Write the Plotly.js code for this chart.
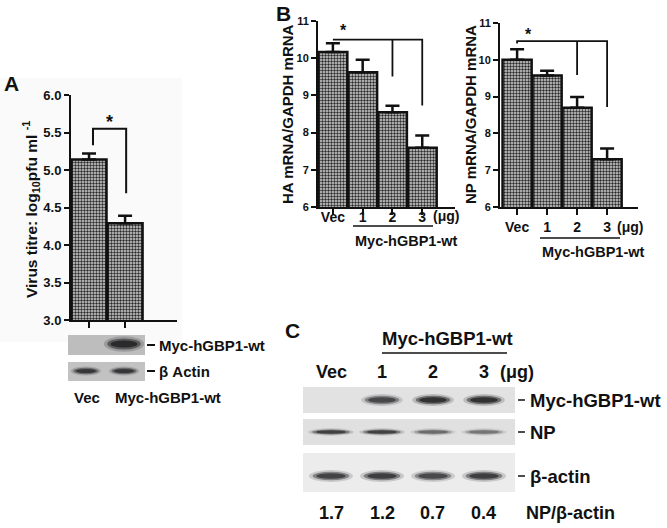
<!DOCTYPE html>
<html><head><meta charset="utf-8">
<script src="https://cdn.plot.ly/plotly-3.0.1.min.js"></script>
<style>html,body{margin:0;padding:0;background:#fff}#chart{width:667px;height:528px}</style>
</head><body><div id="chart"></div>
<script>
// ---- data ----
const aGroups = ['Vec', 'Myc-hGBP1-wt'];
const aTitre = [5.14, 4.29];
const aTitreErr = [0.08, 0.10];

const bGroups = ['Vec', '1', '2', '3'];
const haMrna = [10.17, 9.62, 8.55, 7.59];
const haErr = [0.23, 0.34, 0.17, 0.33];
const npMrna = [10.0, 9.57, 8.70, 7.30];
const npErr = [0.29, 0.13, 0.29, 0.29];

// western blot band intensities (0..1)
const aBlotLanes = ['Vec', 'Myc-hGBP1-wt'];
const aBlotMyc = [0, 1.0];
const aBlotActin = [0.85, 0.85];

const cLanes = ['Vec', '1', '2', '3'];
const cBlotMyc = [0, 0.75, 0.95, 0.95];
const cBlotNP = [0.8, 0.8, 0.5, 0.45];
const cBlotActin = [0.8, 0.85, 0.75, 0.85];
const cRatio = [1.7, 1.2, 0.7, 0.4];

// ---- helpers ----
const W = 667, H = 528;
const px = x => x / W, py = y => 1 - y / H;
const FONT = 'Liberation Sans, Arial, Helvetica, sans-serif';
const INK = '#111';
const zeros = n => new Array(n).fill(0);

const barMarker = {
  color: '#8c8c8c',
  line: {color: INK, width: 2.5},
  pattern: {shape: '.', fgcolor: '#2a2a2a', bgcolor: '#d4d4d4', size: 3, solidity: 0.5}
};
function errY(arr) {
  return {type: 'data', array: arr, arrayminus: zeros(arr.length), symmetric: false,
          color: INK, thickness: 2.5, width: 7};
}

const traces = [
  {type: 'bar', x: aGroups, y: aTitre, xaxis: 'x', yaxis: 'y', width: 0.97,
   marker: barMarker, error_y: errY(aTitreErr), hoverinfo: 'skip'},
  {type: 'bar', x: bGroups, y: haMrna, xaxis: 'x2', yaxis: 'y2', width: 0.97,
   marker: barMarker, error_y: errY(haErr), hoverinfo: 'skip'},
  {type: 'bar', x: bGroups, y: npMrna, xaxis: 'x3', yaxis: 'y3', width: 0.97,
   marker: barMarker, error_y: errY(npErr), hoverinfo: 'skip'}
];

const axLine = {showline: true, linecolor: INK, linewidth: 2, ticks: 'outside', tickcolor: INK,
  tickwidth: 2, ticklen: 5, showgrid: false, zeroline: false, fixedrange: true};
const tickFont = s => ({family: FONT, size: s, color: INK, weight: 'bold'});

const layout = {
  width: W, height: H, margin: {l: 0, r: 0, t: 0, b: 0},
  paper_bgcolor: '#fff', plot_bgcolor: 'rgba(0,0,0,0)', showlegend: false,
  bargap: 0,
  xaxis: Object.assign({}, axLine, {domain: [px(71), px(177)], range: [-0.5, 2.44], type: 'category',
    anchor: 'y', showticklabels: false, ticklen: 6}),
  yaxis: Object.assign({}, axLine, {domain: [py(320), py(95)], range: [3, 6], dtick: 0.5,
    tickformat: '.1f', anchor: 'x', tickfont: tickFont(13)}),
  xaxis2: Object.assign({}, axLine, {domain: [px(318), px(455)], range: [-0.5, 4.1], type: 'category',
    anchor: 'y2', tickfont: tickFont(14), ticklen: 6, ticklabelstandoff: -10}),
  yaxis2: Object.assign({}, axLine, {domain: [py(207), py(21)], range: [6, 11], dtick: 1,
    anchor: 'x2', tickfont: tickFont(11)}),
  xaxis3: Object.assign({}, axLine, {domain: [px(500), px(638)], range: [-0.57, 4.03], type: 'category',
    anchor: 'y3', tickfont: tickFont(14), ticklen: 6, ticklabelstandoff: 0}),
  yaxis3: Object.assign({}, axLine, {domain: [py(207), py(23)], range: [6, 11], dtick: 1,
    anchor: 'x3', tickfont: tickFont(11)}),
  // blot lane axes (hidden)
  xaxis4: {domain: [px(68), px(145)], range: [-0.47, 1.55], visible: false, anchor: 'y4', fixedrange: true},
  yaxis4: {domain: [py(381), py(335)], range: [0, 1], visible: false, anchor: 'x4', fixedrange: true},
  xaxis5: {domain: [px(303), px(515)], range: [-0.549, 3.608], visible: false, anchor: 'y5', fixedrange: true},
  yaxis5: {domain: [py(492), py(387)], range: [0, 1], visible: false, anchor: 'x5', fixedrange: true},
  shapes: [], annotations: []
};

const S = layout.shapes, A = layout.annotations;
function txt(text, x, y, size, opts) {
  A.push(Object.assign({text: text, x: x, y: y, xref: 'paper', yref: 'paper', showarrow: false,
    font: {family: FONT, size: size, color: INK, weight: 'bold'}, xanchor: 'center', yanchor: 'middle'}, opts || {}));
}
function line(x0, y0, x1, y1, w, xref, yref) {
  S.push({type: 'line', x0: x0, y0: y0, x1: x1, y1: y1, xref: xref || 'paper', yref: yref || 'paper',
    line: {color: INK, width: w || 2}});
}
function rect(x0, y0, x1, y1, fill) {
  S.push({type: 'rect', x0: px(x0), x1: px(x1), y0: py(y1), y1: py(y0), xref: 'paper', yref: 'paper',
    fillcolor: fill, line: {width: 0}, layer: 'below'});
}
function band(xref, lane, yc, hw, hh, k) {
  if (k <= 0) return;
  const layers = [[1.2, 1.4, 0.2], [1.0, 1.0, 0.5], [0.8, 0.65, 0.75]];
  layers.forEach(([sw, sh, a]) => {
    S.push({type: 'circle', xref: xref, yref: 'paper', x0: lane - hw * sw, x1: lane + hw * sw,
      y0: py(yc + hh * sh), y1: py(yc - hh * sh), fillcolor: 'rgba(25,25,28,' + (a * k).toFixed(3) + ')',
      line: {width: 0}});
  });
}

// faint panel background
rect(0, 78, 182, 342, '#fafafa');

// ---------- Panel A ----------
txt('A', px(12), py(84), 21);
txt('Virus titre: log<sub>10</sub>pfu ml <sup>-1</sup>', px(31), py(210), 15.5, {textangle: -90});
S.push({type: 'path', xref: 'x', yref: 'y', path: 'M0.11,5.33 L0.11,5.55 L1.03,5.55 L1.03,4.69',
  line: {color: INK, width: 2}});
A.push({text: '*', x: 0.58, y: 5.64, xref: 'x', yref: 'y', showarrow: false, yanchor: 'middle',
  font: {family: FONT, size: 18, color: INK, weight: 'bold'}});
rect(68, 335, 145, 355, '#bdbdbd');
rect(68, 362, 145, 381, '#c2c2c2');
aBlotMyc.forEach((k, i) => band('x4', i, 344, 0.44, 5.5, k));
aBlotActin.forEach((k, i) => band('x4', i, 371, 0.33, 3.2, k));
line(px(147), py(345), px(155), py(345), 2);
line(px(147), py(371), px(155), py(371), 2);
txt('Myc-hGBP1-wt', px(157), py(345), 15, {xanchor: 'left'});
txt('β Actin', px(157), py(371), 15, {xanchor: 'left'});
txt(aBlotLanes[0], px(87), py(397), 15);
txt(aBlotLanes[1], px(168), py(397), 15);

// ---------- Panel B ----------
txt('B', px(283), py(14), 21);
txt('HA mRNA/GAPDH mRNA', px(287), py(114), 15, {textangle: -90});
txt('NP mRNA/GAPDH mRNA', px(471), py(115), 15, {textangle: -90});
S.push({type: 'path', xref: 'x2', yref: 'y2', path: 'M0,10.5 L3,10.5 L3,8.73 M2,10.5 L2,9.51',
  line: {color: INK, width: 1.8}});
A.push({text: '*', x: 0.37, y: 10.74, xref: 'x2', yref: 'y2', showarrow: false, yanchor: 'middle',
  font: {family: FONT, size: 16, color: INK, weight: 'bold'}});
S.push({type: 'path', xref: 'x3', yref: 'y3', path: 'M0,10.44 L0,10.51 L3,10.51 L3,8.72 M2,10.51 L2,9.59',
  line: {color: INK, width: 1.8}});
A.push({text: '*', x: 0.37, y: 10.7, xref: 'x3', yref: 'y3', showarrow: false, yanchor: 'middle',
  font: {family: FONT, size: 16, color: INK, weight: 'bold'}});
txt('(μg)', px(446), py(216), 14);
txt('(μg)', px(630), py(227), 14);
line(px(353), py(226), px(433), py(226), 1.3);
line(px(540), py(238), px(620), py(238), 1.3);
txt('Myc-hGBP1-wt', px(353), py(241), 14.5, {xanchor: 'left'});
txt('Myc-hGBP1-wt', px(540), py(252), 14.5, {xanchor: 'left'});

// ---------- Panel C ----------
txt('C', px(292), py(330), 21);
txt('Myc-hGBP1-wt', px(447), py(338), 18.5);
line(px(382), py(353), px(507), py(353), 1.5);
cLanes.forEach((l, i) => A.push({text: l, x: i, y: py(372), xref: 'x5', yref: 'paper', showarrow: false,
  xanchor: 'center', yanchor: 'middle', font: {family: FONT, size: 18, color: INK, weight: 'bold'}}));
txt('(μg)', px(517), py(372), 18);
rect(303, 387, 515, 413, '#e2e2e2');
rect(303, 419, 515, 445, '#e0e0e0');
rect(303, 453, 515, 492, '#ececec');
cBlotMyc.forEach((k, i) => band('x5', i, 400, 0.34, 4.2, k));
cBlotNP.forEach((k, i) => band('x5', i, 432, 0.37, 2.6, k));
cBlotActin.forEach((k, i) => band('x5', i, 476, 0.36, 4.2, k));
[400, 432, 476].forEach(y => line(px(518), py(y), px(525), py(y), 1.5));
txt('Myc-hGBP1-wt', px(528), py(400), 18.5, {xanchor: 'left'});
txt('NP', px(528), py(432), 18.5, {xanchor: 'left'});
txt('β-actin', px(528), py(476), 18.5, {xanchor: 'left'});
cRatio.forEach((v, i) => A.push({text: v.toFixed(1), x: i, y: py(513), xref: 'x5', yref: 'paper', showarrow: false,
  xanchor: 'center', yanchor: 'middle', font: {family: FONT, size: 18, color: INK, weight: 'bold'}}));
txt('NP/β-actin', px(524), py(513), 18, {xanchor: 'left'});

Plotly.newPlot('chart', traces, layout, {staticPlot: true});
</script></body></html>
